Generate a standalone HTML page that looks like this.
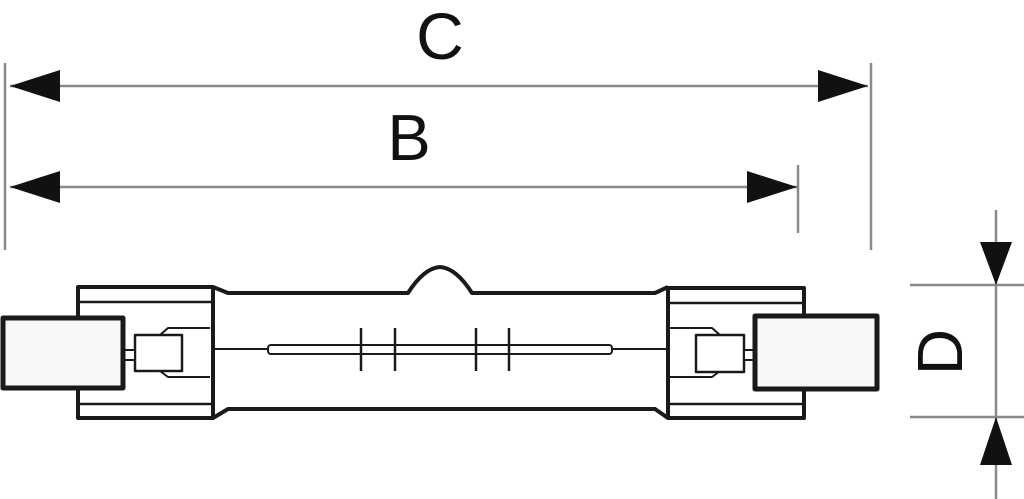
<!DOCTYPE html>
<html><head><meta charset="utf-8"><style>html,body{margin:0;padding:0;background:#fff}svg{display:block}</style></head>
<body>
<svg width="1024" height="499" viewBox="0 0 1024 499" xmlns="http://www.w3.org/2000/svg">
<g stroke="#8a8a8a" stroke-width="2.5" fill="none">
<line x1="5" y1="63" x2="5" y2="250"/>
<line x1="871" y1="63" x2="871" y2="250"/>
<line x1="798" y1="165" x2="798" y2="233"/>
<line x1="10" y1="86" x2="868" y2="86"/>
<line x1="10" y1="187" x2="797" y2="187"/>
<line x1="996" y1="210" x2="996" y2="499"/>
<line x1="910" y1="285" x2="1024" y2="285"/>
<line x1="910" y1="417" x2="1024" y2="417"/>
</g>
<g fill="#111">
<polygon points="10,86 60,70 60,102"/>
<polygon points="868,86 818,70 818,102"/>
<polygon points="10,187 60,171 60,203"/>
<polygon points="797,187 747,171 747,203"/>
<polygon points="996,285 980,242 1012,242"/>
<polygon points="996,417 980,465 1012,465"/>
</g>
<g font-family="Liberation Sans, sans-serif" fill="#111">
<text x="440" y="59" font-size="66" text-anchor="middle">C</text>
<text x="409" y="160" font-size="65" text-anchor="middle">B</text>
<text transform="translate(962,352) rotate(-90)" font-size="64" text-anchor="middle">D</text>
</g>
<g stroke="#1a1a1a" fill="none" stroke-linejoin="round">
<!-- tube -->
<path d="M213,287 L228,293 L408,293 Q424,268 440,267 Q456,268 472,293 L655,293 L668,287" stroke-width="4"/>
<path d="M213,418 L228,409 L655,409 L668,418" stroke-width="4"/>
<!-- left cap -->
<rect x="78" y="287" width="135" height="131" stroke-width="4"/>
<line x1="80" y1="302" x2="211" y2="302" stroke-width="2.5"/>
<line x1="80" y1="404" x2="211" y2="404" stroke-width="2.5"/>
<!-- right cap -->
<rect x="668" y="288" width="136" height="130" stroke-width="4"/>
<line x1="670" y1="303" x2="802" y2="303" stroke-width="2.5"/>
<line x1="670" y1="404" x2="802" y2="404" stroke-width="2.5"/>
<!-- left inner -->
<path d="M210,328 L168,328 L160,335 M210,377 L168,377 L160,371" stroke-width="2"/>
<rect x="135" y="335" width="47" height="36" stroke-width="2.5" fill="#fff"/>
<rect x="123" y="350" width="12" height="10" stroke-width="2" fill="#fff"/>
<!-- right inner -->
<path d="M670,328 L712,328 L720,335 M670,377 L712,377 L720,371" stroke-width="2"/>
<rect x="696" y="335" width="48" height="37" stroke-width="2.5" fill="#fff"/>
<rect x="744" y="350" width="11" height="10" stroke-width="2" fill="#fff"/>
<!-- terminal blocks -->
<rect x="3" y="318" width="120" height="70" stroke-width="5" fill="#f8f7f5"/>
<rect x="755" y="316" width="122" height="73" stroke-width="5" fill="#f8f7f5"/>
<!-- filament -->
<line x1="212" y1="349" x2="268" y2="349" stroke-width="2"/>
<line x1="612" y1="349" x2="668" y2="349" stroke-width="2"/>
<rect x="268" y="345" width="344" height="9" rx="3" stroke-width="2"/>
<g stroke-width="2.5">
<line x1="361" y1="328" x2="361" y2="371"/>
<line x1="395" y1="328" x2="395" y2="371"/>
<line x1="476" y1="328" x2="476" y2="371"/>
<line x1="509" y1="328" x2="509" y2="371"/>
</g>
</g>
</svg>
</body></html>
